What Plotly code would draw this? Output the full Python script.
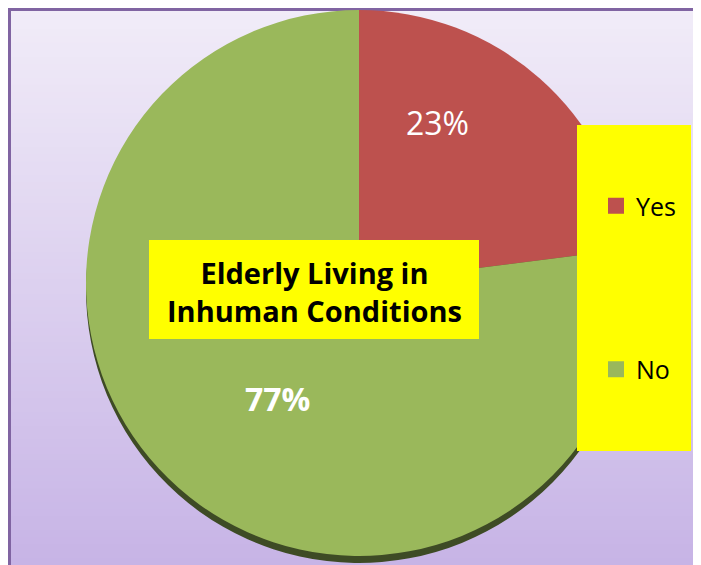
import plotly.graph_objects as go

labels = ['Yes', 'No']
values = [23, 77]
colors = ['#BD514E', '#9AB85B']
shadow_colors = ['#6A2A28', '#3E4B25']
title_text = 'Elderly Living in<br>Inhuman Conditions'

OFF = 8  # page body margin
W, H = 701 - OFF, 565 - OFF
FONT = 'Open Sans'


def px(x, y):
    # screen pixel (from top-left of window) -> paper coords
    return (x - OFF) / W, 1 - (y - OFF) / H


def hexmix(c1, c2, t):
    a = [int(c1[i:i + 2], 16) for i in (1, 3, 5)]
    b = [int(c2[i:i + 2], 16) for i in (1, 3, 5)]
    return '#' + ''.join(f'{round(a[k] + (b[k] - a[k]) * t):02x}' for k in range(3))


fig = go.Figure()

# pie centre (359, 283) on screen, radius ~273
cx, cy, r = 359, 283, 273
sh = 7

for dy, cols, hov in [(sh, shadow_colors, 'skip'), (0, colors, None)]:
    x0, y0 = px(cx - r, cy + r + dy)
    x1, y1 = px(cx + r, cy - r + dy)
    fig.add_trace(go.Pie(
        labels=labels, values=values, sort=False, direction='clockwise', rotation=0,
        marker=dict(colors=cols, line=dict(width=0)),
        textinfo='none', hoverinfo=hov, showlegend=False,
        domain=dict(x=[x0, x1], y=[max(0, y0), min(1, y1)]),
    ))

# legend entries
for lab, col in zip(labels, colors):
    fig.add_trace(go.Scatter(
        x=[None], y=[None], mode='markers', name=lab, legendgroup=lab,
        marker=dict(symbol='square', size=18, color=col),
    ))

shapes = []
# background gradient
n = 80
for i in range(n):
    shapes.append(dict(type='rect', xref='paper', yref='paper', layer='below',
                       x0=0, x1=1, y0=1 - (i + 1) / n - 0.003, y1=1 - i / n,
                       fillcolor=hexmix('#F1ECF8', '#C7B4E6', i / (n - 1)),
                       line=dict(width=0)))
# frame
shapes.append(dict(type='rect', xref='paper', yref='paper', layer='below',
                   x0=1.5 / W, x1=(W + 6) / W, y0=-0.03, y1=1 - 1.5 / H,
                   fillcolor='rgba(0,0,0,0)', line=dict(color='#8064A2', width=3)))
# legend box
lx0, ly0 = px(577, 451)
lx1, ly1 = px(691, 125)
shapes.append(dict(type='rect', xref='paper', yref='paper', layer='above',
                   x0=lx0, x1=lx1, y0=ly0, y1=ly1,
                   fillcolor='#FFFF00', line=dict(width=0)))
# title box
bx0, by0 = px(149, 339)
bx1, by1 = px(479, 240)
shapes.append(dict(type='rect', xref='paper', yref='paper', layer='above',
                   x0=bx0, x1=bx1, y0=by0, y1=by1,
                   fillcolor='#FFFF00', line=dict(width=0)))

annots = []
# percentage labels
pos = [(437, 122, False), (277, 398, True)]
for v, (x, y, bold) in zip(values, pos):
    ax, ay = px(x, y)
    txt = f'{v}%'
    annots.append(dict(x=ax, y=ay, xref='paper', yref='paper', showarrow=False,
                       xanchor='center', yanchor='middle',
                       text=f'<b>{txt}</b>' if bold else txt,
                       font=dict(family=FONT, size=32, color='white')))
# title
tx, ty = px(314, 291)
annots.append(dict(x=tx, y=ty, xref='paper', yref='paper', showarrow=False,
                   xanchor='center', yanchor='middle',
                   text=f'<b>{title_text}</b>', align='center',
                   font=dict(family=FONT, size=29, color='black')))

legx, legy = px(596, 183)
fig.update_layout(
    width=W, height=H, margin=dict(l=0, r=0, t=0, b=0),
    paper_bgcolor='white', plot_bgcolor='rgba(0,0,0,0)',
    xaxis=dict(visible=False), yaxis=dict(visible=False),
    shapes=shapes, annotations=annots,
    showlegend=True,
    legend=dict(x=legx, y=legy, xanchor='left', yanchor='top',
                bgcolor='rgba(0,0,0,0)', tracegroupgap=128,
                font=dict(family=FONT, size=25, color='black')),
)

# no scrollbars: the figure runs to the window edges
fig.write_html('out.html', config={'responsive': False},
               post_script="document.body.style.overflow='hidden';")
